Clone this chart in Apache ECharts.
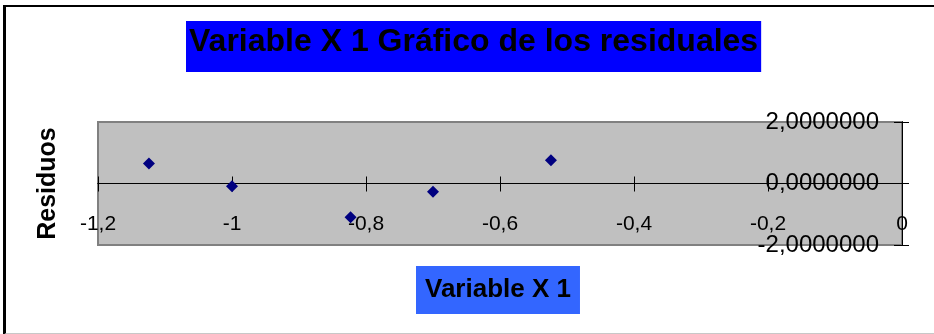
<!DOCTYPE html>
<html>
<head>
<meta charset="utf-8">
<script src="https://cdn.jsdelivr.net/npm/echarts@6/dist/echarts.min.js"></script>
<style>
  html, body { margin: 0; padding: 0; background: #fff; }
  #chart { position: absolute; left: 0; top: 0; width: 934px; height: 334px; }
  #frame {
    position: absolute; left: 3px; top: 5px; width: 940px; height: 326px;
    border-top: 2px solid #000; border-left: 3px solid #000; border-bottom: 2px solid #c8c8c8;
    pointer-events: none;
  }
</style>
</head>
<body>
<div id="chart"></div>
<div id="frame"></div>
<script>
// Residuals of the regression against Variable X 1
const xValues   = [-1.124, -1.0, -0.823, -0.70, -0.524];
const residuals = [0.65, -0.09, -1.10, -0.27, 0.76];

const xTickLabels = ['-1,2', '-1', '-0,8', '-0,6', '-0,4', '-0,2', '0'];
const yTickLabels = ['-2,0000000', '0,0000000', '2,0000000'];

const FONT = 'Liberation Sans, Arial, sans-serif';

const points = xValues.map((x, i) => [x, residuals[i]]);

// plot box: top 122, height 123 -> the zero line sits half way up
const GRID_TOP = 122, GRID_BOTTOM = 89, GRID_H = 334 - GRID_TOP - GRID_BOTTOM;
const ZERO_OFFSET = -GRID_H / 2;

const xBase = { type: 'value', min: -1.2, max: 0, interval: 0.2, splitLine: { show: false } };
const yBase = { type: 'value', min: -2, max: 2, interval: 2, splitLine: { show: false } };
const xLine = { show: true, onZero: false, lineStyle: { color: '#000', width: 1 } };

const chart = echarts.init(document.getElementById('chart'));
chart.setOption({
  animation: false,
  title: [
    {
      text: 'Variable X 1 Gráfico de los residuales',
      left: 186, top: 21,
      backgroundColor: '#0000FF',
      padding: [5, 3, 14, 3],
      textStyle: { fontFamily: FONT, fontSize: 32, fontWeight: 'bold', color: '#000', lineHeight: 32 }
    },
    {
      text: 'Variable X 1',
      left: 416, top: 266,
      backgroundColor: '#3366FF',
      padding: [11, 9, 11, 9],
      textStyle: { fontFamily: FONT, fontSize: 26, fontWeight: 'bold', color: '#000', lineHeight: 26 }
    }
  ],
  grid: {
    left: 98, right: 32, top: GRID_TOP, bottom: GRID_BOTTOM,
    show: true, backgroundColor: '#C0C0C0', borderColor: '#808080', borderWidth: 2
  },
  xAxis: [
    Object.assign({}, xBase, {
      position: 'bottom',
      offset: ZERO_OFFSET,
      axisLine: xLine,
      axisTick: { show: true, length: 8, lineStyle: { color: '#000' } },
      axisLabel: {
        margin: 30, fontFamily: FONT, fontSize: 21, color: '#000',
        formatter: (v, i) => xTickLabels[i]
      }
    }),
    Object.assign({}, xBase, {
      position: 'bottom',
      offset: ZERO_OFFSET,
      axisLine: xLine,
      axisTick: { show: true, inside: true, length: 7, lineStyle: { color: '#000' } },
      axisLabel: { show: false }
    })
  ],
  yAxis: [
    Object.assign({}, yBase, {
      position: 'right',
      axisLine: { show: true, onZero: false, lineStyle: { color: '#000', width: 1 } },
      axisTick: { show: true, length: 7, lineStyle: { color: '#000' } },
      axisLabel: {
        inside: true, margin: 23, fontFamily: FONT, fontSize: 24, color: '#000',
        formatter: (v, i) => yTickLabels[i]
      }
    }),
    Object.assign({}, yBase, {
      position: 'right',
      axisLine: { show: true, onZero: false, lineStyle: { color: '#000', width: 1 } },
      axisTick: { show: true, inside: true, length: 8, lineStyle: { color: '#000' } },
      axisLabel: { show: false }
    }),
    Object.assign({}, yBase, {
      position: 'left',
      axisLine: { show: false, onZero: false },
      axisTick: { show: false },
      axisLabel: { show: false },
      name: 'Residuos',
      nameLocation: 'middle',
      nameGap: 37,
      nameTextStyle: { fontFamily: FONT, fontSize: 25, fontWeight: 'bold', color: '#000' }
    })
  ],
  series: [
    {
      type: 'scatter',
      xAxisIndex: 0,
      yAxisIndex: 0,
      data: points,
      symbol: 'diamond',
      symbolSize: 12,
      itemStyle: { color: '#000080', opacity: 1 },
      z: 5
    }
  ]
});
</script>
</body>
</html>
